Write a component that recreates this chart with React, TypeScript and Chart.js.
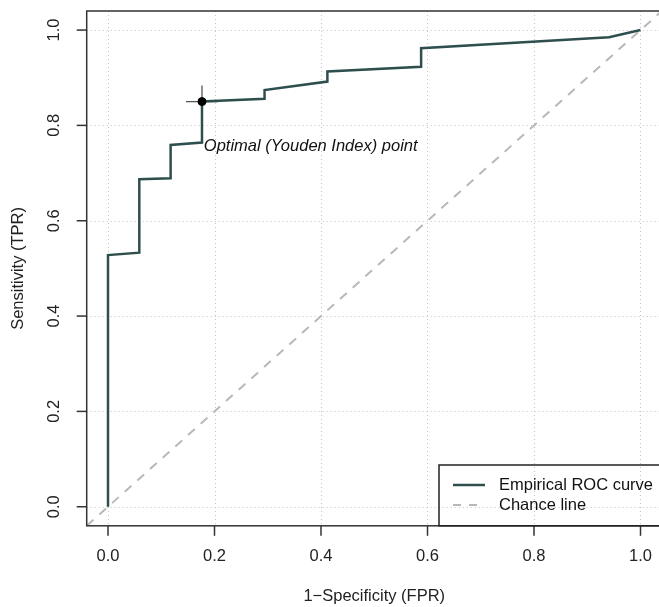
import React, { useEffect, useRef } from 'react';
import { Chart, registerables } from 'chart.js';

Chart.register(...registerables);

// ---- data ----
const FPR = [0, 0, 0.0588, 0.0588, 0.1176, 0.1176, 0.1765, 0.1765, 0.294, 0.294, 0.412, 0.412, 0.588, 0.588, 0.941, 1];
const TPR = [0, 0.528, 0.533, 0.687, 0.689, 0.759, 0.764, 0.85, 0.856, 0.874, 0.892, 0.913, 0.923, 0.962, 0.985, 1];
const CHANCE_X = [-0.04, 1.04];
const CHANCE_Y = [-0.04, 1.04];
const OPT_X = [0.1765];
const OPT_Y = [0.85];
const TICKS = [0, 0.2, 0.4, 0.6, 0.8, 1.0];
const TICK_LABELS = ['0.0', '0.2', '0.4', '0.6', '0.8', '1.0'];
const X_TITLE = '1\u2212Specificity (FPR)';
const Y_TITLE = 'Sensitivity (TPR)';
const ANNOT_TEXT = 'Optimal (Youden Index) point';
const ANNOT_POS = [0.18, 0.755];
const LEGEND_LABELS = ['Empirical ROC curve', 'Chance line'];

const AXIS_MIN = -0.04;
const AXIS_MAX = 1.04;
const CANVAS_W = 670;
const CANVAS_H = 607;
const FONT = '"Liberation Sans", Arial, sans-serif';
const ROC_COLOR = '#2F4F4F';
const CHANCE_COLOR = '#b8b8b8';

const decor = {
  id: 'rDecor',
  beforeDatasetsDraw(chart: any) {
    const { ctx, chartArea: a, scales } = chart;
    const xs = scales.x, ys = scales.y;
    ctx.save();
    ctx.strokeStyle = '#c4c4c4';
    ctx.lineWidth = 1;
    ctx.setLineDash([1, 3]);
    TICKS.forEach((t) => {
      const px = Math.round(xs.getPixelForValue(t)) + 0.5;
      ctx.beginPath();
      ctx.moveTo(px, a.top);
      ctx.lineTo(px, a.bottom);
      ctx.stroke();
      const py = Math.round(ys.getPixelForValue(t)) + 0.5;
      ctx.beginPath();
      ctx.moveTo(a.left, py);
      ctx.lineTo(a.right, py);
      ctx.stroke();
    });
    ctx.restore();
  },
  afterDatasetsDraw(chart: any) {
    const { ctx, chartArea: a, scales } = chart;
    const xs = scales.x, ys = scales.y;
    ctx.save();
    ctx.setLineDash([]);
    ctx.strokeStyle = '#333';
    ctx.lineWidth = 1.5;
    ctx.strokeRect(a.left, a.top, a.right - a.left, a.bottom - a.top);
    ctx.fillStyle = '#222';
    ctx.font = '16.5px ' + FONT;
    TICKS.forEach((t, i) => {
      const px = xs.getPixelForValue(t);
      ctx.beginPath();
      ctx.moveTo(px, a.bottom);
      ctx.lineTo(px, a.bottom + 10);
      ctx.stroke();
      ctx.textAlign = 'center';
      ctx.textBaseline = 'middle';
      ctx.fillText(TICK_LABELS[i], px, a.bottom + 31);

      const py = ys.getPixelForValue(t);
      ctx.beginPath();
      ctx.moveTo(a.left, py);
      ctx.lineTo(a.left - 10, py);
      ctx.stroke();
      ctx.save();
      ctx.translate(a.left - 32, py);
      ctx.rotate(-Math.PI / 2);
      ctx.fillText(TICK_LABELS[i], 0, 0);
      ctx.restore();
    });
    ctx.textAlign = 'center';
    ctx.textBaseline = 'middle';
    ctx.fillText(X_TITLE, (a.left + a.right) / 2, a.bottom + 71);
    ctx.save();
    ctx.translate(a.left - 68, (a.top + a.bottom) / 2);
    ctx.rotate(-Math.PI / 2);
    ctx.fillText(Y_TITLE, 0, 0);
    ctx.restore();
    ctx.font = 'italic 16.5px ' + FONT;
    ctx.textAlign = 'left';
    ctx.fillStyle = '#111';
    ctx.fillText(ANNOT_TEXT, xs.getPixelForValue(ANNOT_POS[0]), ys.getPixelForValue(ANNOT_POS[1]));
    const lx = 439, ltop = 465;
    ctx.strokeStyle = '#222';
    ctx.lineWidth = 1.5;
    ctx.strokeRect(lx, ltop, a.right - lx + 20, a.bottom - ltop);
    ctx.font = '16.5px ' + FONT;
    ctx.fillStyle = '#111';
    const rows = [ltop + 20, ltop + 40];
    ctx.strokeStyle = ROC_COLOR;
    ctx.lineWidth = 2.5;
    ctx.beginPath();
    ctx.moveTo(lx + 14, rows[0]);
    ctx.lineTo(lx + 46, rows[0]);
    ctx.stroke();
    ctx.strokeStyle = CHANCE_COLOR;
    ctx.lineWidth = 2;
    ctx.setLineDash([8, 8]);
    ctx.beginPath();
    ctx.moveTo(lx + 14, rows[1]);
    ctx.lineTo(lx + 46, rows[1]);
    ctx.stroke();
    ctx.setLineDash([]);
    ctx.fillText(LEGEND_LABELS[0], lx + 60, rows[0]);
    ctx.fillText(LEGEND_LABELS[1], lx + 60, rows[1]);
    ctx.restore();
  },
};

export default function App() {
  const ref = useRef<HTMLCanvasElement | null>(null);
  useEffect(() => {
    if (!ref.current) return;
    const chart = new Chart(ref.current, {
      type: 'scatter',
      data: {
        datasets: [
          {
            label: 'opt',
            data: OPT_X.map((x, i) => ({ x, y: OPT_Y[i] })),
            pointStyle: 'circle',
            pointRadius: 4,
            backgroundColor: '#000',
            borderColor: '#000',
            showLine: false,
          },
          {
            label: LEGEND_LABELS[0],
            data: FPR.map((x, i) => ({ x, y: TPR[i] })),
            showLine: true,
            borderColor: ROC_COLOR,
            borderWidth: 2.5,
            pointRadius: 0,
            tension: 0,
          },
          {
            label: 'cross',
            data: OPT_X.map((x, i) => ({ x, y: OPT_Y[i] })),
            pointStyle: 'cross',
            pointRadius: 16,
            borderColor: '#555',
            borderWidth: 1.3,
            showLine: false,
          },
          {
            label: LEGEND_LABELS[1],
            data: CHANCE_X.map((x, i) => ({ x, y: CHANCE_Y[i] })),
            showLine: true,
            borderColor: CHANCE_COLOR,
            borderWidth: 2,
            borderDash: [9, 8],
            pointRadius: 0,
            clip: 0,
          },
        ],
      },
      options: {
        animation: false,
        responsive: false,
        devicePixelRatio: 1,
        layout: {
          autoPadding: false,
          padding: { left: 86.7, top: 11, right: CANVAS_W - 661.8, bottom: CANVAS_H - 525.8 },
        },
        plugins: { legend: { display: false }, tooltip: { enabled: false } },
        scales: {
          x: { type: 'linear', min: AXIS_MIN, max: AXIS_MAX, display: false },
          y: { type: 'linear', min: AXIS_MIN, max: AXIS_MAX, display: false },
        },
      },
      plugins: [decor],
    });
    return () => chart.destroy();
  }, []);
  return (
    <div style={{ position: 'fixed', left: 0, top: 0, width: 659, height: 607, overflow: 'hidden', background: '#fff' }}>
      <canvas ref={ref} width={CANVAS_W} height={CANVAS_H} style={{ display: 'block' }} />
    </div>
  );
}
